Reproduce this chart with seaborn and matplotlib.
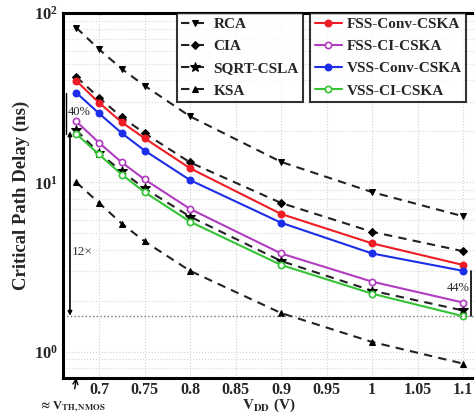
import matplotlib
matplotlib.use("Agg")
from matplotlib import pyplot as plt
import pandas as pd
import seaborn as sns

# supply voltage points (V)
vdd = [0.675, 0.7, 0.725, 0.75, 0.8, 0.9, 1.0, 1.1]

# critical path delay (ns)
rca = [81.8, 61.0, 46.7, 37.2, 24.5, 13.2, 8.75, 6.3]
cia = [41.9, 31.6, 24.2, 19.5, 13.1, 7.55, 5.1, 3.92]
sqrt_csla = [20.3, 14.9, 11.6, 9.2, 6.27, 3.43, 2.29, 1.75]
ksa = [10.0, 7.55, 5.7, 4.48, 3.0, 1.69, 1.14, 0.85]
fss_conv = [39.7, 29.5, 22.6, 18.2, 12.1, 6.5, 4.36, 3.25]
fss_ci = [22.9, 17.1, 13.1, 10.4, 6.96, 3.8, 2.59, 1.95]
vss_conv = [33.8, 25.5, 19.5, 15.4, 10.3, 5.77, 3.8, 3.0]
vss_ci = [19.3, 14.6, 11.1, 8.75, 5.85, 3.25, 2.2, 1.62]

xticks = [0.7, 0.75, 0.8, 0.85, 0.9, 0.95, 1.0, 1.05, 1.1]
xticklabels = ["0.7", "0.75", "0.8", "0.85", "0.9", "0.95", "1", "1.05", "1.1"]

ref_level = 1.63

sns.set_theme(style="white")
plt.rcParams["font.family"] = ["Liberation Serif", "DejaVu Serif"]
plt.rcParams["font.weight"] = "bold"
plt.rcParams["mathtext.fontset"] = "stix"
plt.rcParams["mathtext.default"] = "bf"

fig = plt.figure(figsize=(4.74, 4.18), dpi=100)
ax = fig.add_axes([0.133, 0.096, 0.867, 0.873])

black_series = [("RCA", rca, "v"), ("CIA", cia, "D"),
                ("SQRT-CSLA", sqrt_csla, "*"), ("KSA", ksa, "^")]
color_series = [("FSS-Conv-CSKA", fss_conv, "#ee1c24", True),
                ("FSS-CI-CSKA", fss_ci, "#b03cc0", False),
                ("VSS-Conv-CSKA", vss_conv, "#1c2ee8", True),
                ("VSS-CI-CSKA", vss_ci, "#35c435", False)]

for name, vals, mk in black_series:
    df = pd.DataFrame({"Vdd": vdd, "Delay": vals})
    ms = 7 if mk == "*" else 5
    if mk == "D":
        ms = 4
    sns.lineplot(x="Vdd", y="Delay", data=df, ax=ax, color="#222222",
                 linestyle=(0, (4, 3)), linewidth=1.5, marker=mk,
                 markersize=ms, markeredgecolor="black",
                 markerfacecolor="black", label=name, legend=False)

for name, vals, col, filled in color_series:
    df = pd.DataFrame({"Vdd": vdd, "Delay": vals})
    sns.lineplot(x="Vdd", y="Delay", data=df, ax=ax, color=col,
                 linewidth=1.5, marker="o", markersize=4.5,
                 markeredgecolor=col, markeredgewidth=1.2,
                 markerfacecolor=col if filled else "white",
                 label=name, legend=False)

ax.set_yscale("log")
ax.set_ylim(0.7, 100)
ax.set_xlim(0.6604, 1.112)
ax.set_xticks(xticks)
ax.set_xticklabels(xticklabels)
ax.grid(True, which="major", color="#d0d0d0", linestyle=":", linewidth=0.8)
ax.grid(True, which="minor", axis="y", color="#d8d8d8", linestyle=":", linewidth=0.8)
ax.tick_params(axis="x", direction="in", labelsize=11.5, length=4, width=1.2, pad=3)
ax.tick_params(axis="y", direction="in", labelsize=12, length=4, width=1.2)
ax.tick_params(which="minor", direction="in", length=2)
for s in ["left", "bottom", "top"]:
    ax.spines[s].set_linewidth(2.2)
    ax.spines[s].set_color("black")
ax.spines["right"].set_visible(False)

ax.set_xlabel(r"$\mathbf{V_{DD}}$ (V)", fontsize=11, fontweight="bold", labelpad=-1)
ax.set_ylabel("Critical Path Delay (ns)", fontsize=13.5, fontweight="bold", labelpad=3)

# reference line at the lowest delay
ax.axhline(ref_level, color="#777777", linestyle=":", linewidth=1.0)

# 12x arrow
ax.annotate("", xy=(0.668, ref_level), xytext=(0.668, 20.0),
            arrowprops=dict(arrowstyle="<|-|>", color="black", lw=1.2,
                            mutation_scale=6, shrinkA=0, shrinkB=0))
ax.text(0.6705, 3.7, "12×", fontsize=9.5, fontweight="normal", color="#333333")

# 40% bracket
ax.plot([0.6637, 0.6637], [33.8, 19.3], color="black", lw=1.0)
ax.text(0.6655, 25.9, "40%", fontsize=9, fontweight="normal", va="center")

# 44% bracket
ax.plot([1.109, 1.109], [3.0, ref_level], color="black", lw=1.2, clip_on=False)
ax.text(1.107, 2.39, "44%", fontsize=9, fontweight="normal", ha="right", va="center")

# threshold voltage marker under the axis
ax.annotate(r"$\approx$V$_{\mathbf{TH,NMOS}}$", xy=(0.675, 0.0), xycoords=("data", "axes fraction"),
            xytext=(0.6705, -0.078), textcoords=("data", "axes fraction"),
            ha="center", va="center", fontsize=9, fontweight="bold",
            arrowprops=dict(arrowstyle="->", color="black", lw=1.0,
                            shrinkA=5, shrinkB=0))

handles, labels = ax.get_legend_handles_labels()
leg_kw = dict(loc="upper left", fontsize=11, frameon=True, fancybox=False,
              edgecolor="black", handlelength=1.8, handletextpad=0.3,
              labelspacing=0.55, borderpad=0.3, borderaxespad=0)
leg1 = ax.legend(handles[:4], labels[:4], bbox_to_anchor=(0.277, 1.0), **leg_kw)
leg1.get_frame().set_linewidth(1.5)
ax.add_artist(leg1)
leg2 = ax.legend(handles[4:], labels[4:], bbox_to_anchor=(0.601, 1.0), **leg_kw)
leg2.get_frame().set_linewidth(1.5)

plt.savefig("out.png", dpi=100)
